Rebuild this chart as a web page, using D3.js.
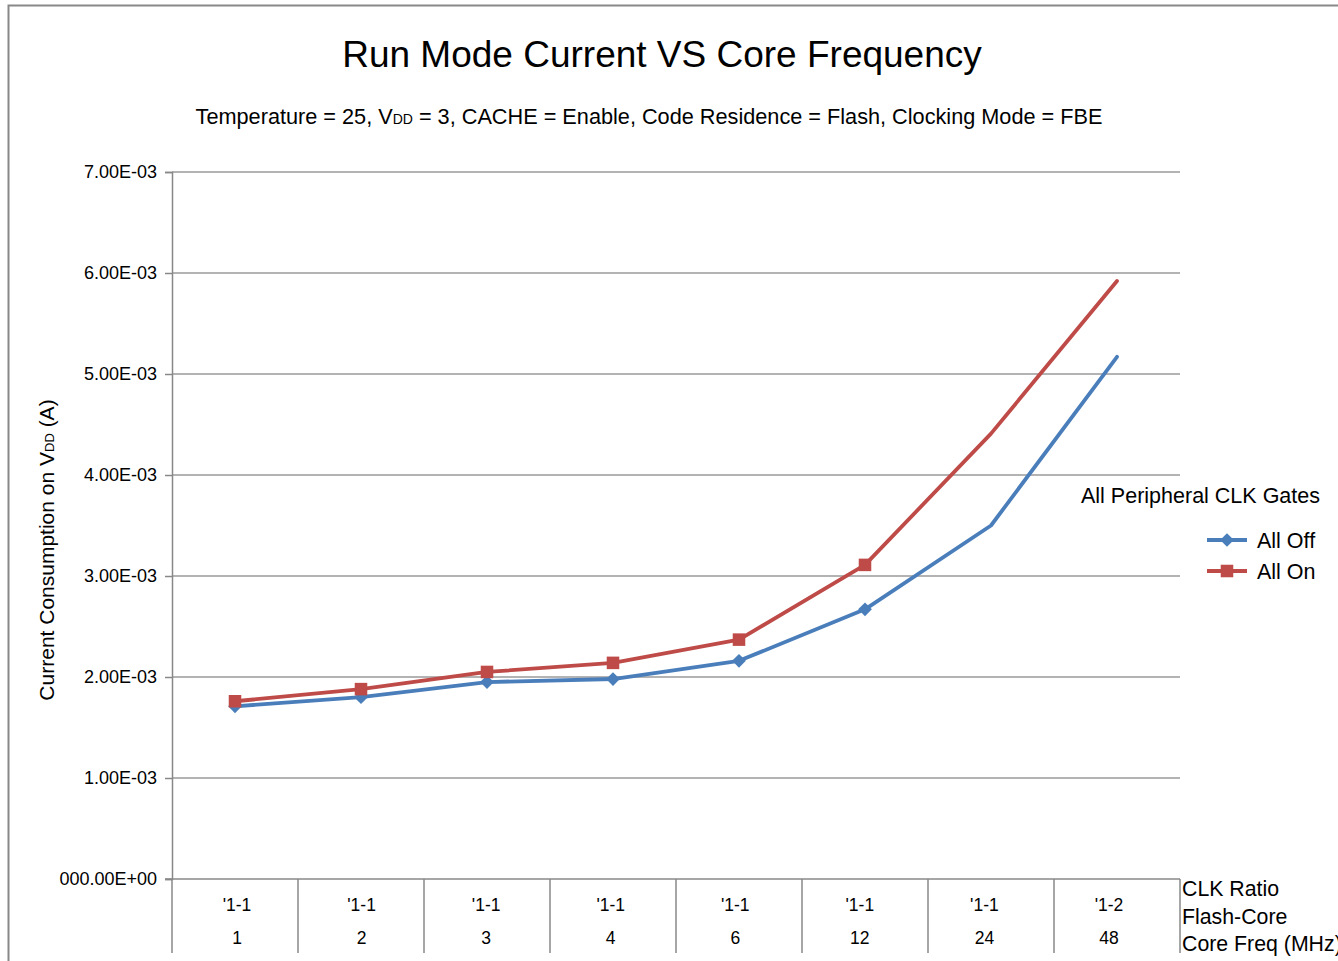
<!DOCTYPE html>
<html>
<head>
<meta charset="utf-8">
<script src="https://cdn.jsdelivr.net/npm/d3@7"></script>
<style>
  body { margin: 0; background: #fff; }
  text { font-family: "Liberation Sans", Arial, sans-serif; fill: #000; }
</style>
</head>
<body>
<div id="chart"></div>
<script>
// data
let clkRatio = ["'1-1", "'1-1", "'1-1", "'1-1", "'1-1", "'1-1", "'1-1", "'1-2"];
let coreFreq = ["1", "2", "3", "4", "6", "12", "24", "48"];
let allOff = [1.71e-3, 1.80e-3, 1.95e-3, 1.98e-3, 2.16e-3, 2.67e-3, 3.50e-3, 5.17e-3];
let allOn  = [1.76e-3, 1.88e-3, 2.05e-3, 2.14e-3, 2.37e-3, 3.11e-3, 4.41e-3, 5.92e-3];
let yTicks = [0, 1e-3, 2e-3, 3e-3, 4e-3, 5e-3, 6e-3, 7e-3];
let yTickLabels = ["000.00E+00", "1.00E-03", "2.00E-03", "3.00E-03", "4.00E-03", "5.00E-03", "6.00E-03", "7.00E-03"];
let rowTitles = ["CLK Ratio", "Flash-Core", "Core Freq (MHz)"];
// last two points were drawn without markers in the original
let markerCount = 6;

let width = 1338, height = 961;
let margin = {left: 172, right: 158, top: 172, bottom: 82};

let svg = d3.select("#chart").append("svg")
    .attr("width", width)
    .attr("height", height);

// outer chart border
svg.append("rect")
    .attr("x", 8.5).attr("y", 5.5)
    .attr("width", width).attr("height", height)
    .attr("fill", "none").attr("stroke", "#888").attr("stroke-width", 2);

let x = d3.scaleBand().domain(d3.range(coreFreq.length))
    .range([margin.left, width - margin.right]);
let y = d3.scaleLinear().domain([0, 7e-3])
    .range([height - margin.bottom, margin.top]);

// grid lines
svg.append("g").selectAll("line").data(yTicks.slice(1)).join("line")
    .attr("x1", margin.left).attr("x2", width - margin.right)
    .attr("y1", d => y(d)).attr("y2", d => y(d))
    .attr("stroke", "#9a9a9a").attr("stroke-width", 1.5);

// y axis
let yAxis = d3.axisLeft(y).tickValues(yTicks)
    .tickFormat((d, i) => yTickLabels[i]).tickSize(7).tickPadding(8);
let gy = svg.append("g").attr("transform", "translate(" + margin.left + ",0)").call(yAxis);
gy.select(".domain").attr("stroke", "#888").attr("stroke-width", 1.5);
gy.selectAll(".tick line").attr("stroke", "#888").attr("stroke-width", 1.5);
gy.selectAll("text").attr("font-size", 18).attr("font-family", "Liberation Sans, Arial, sans-serif").attr("fill", "#000");

// x axis base line
let y0 = y(0);
svg.append("line")
    .attr("x1", margin.left - 7).attr("x2", width - margin.right)
    .attr("y1", y0).attr("y2", y0)
    .attr("stroke", "#888").attr("stroke-width", 1.5);

// category separators (multi-level axis)
let bounds = d3.range(coreFreq.length + 1).map(i => margin.left + i * x.step());
svg.append("g").selectAll("line").data(bounds).join("line")
    .attr("x1", d => d).attr("x2", d => d)
    .attr("y1", y0).attr("y2", y0 + 74)
    .attr("stroke", "#888").attr("stroke-width", 1.5);

let labelX = d3.scalePoint().domain(d3.range(coreFreq.length))
    .range([x(0) + x.bandwidth() / 2 + 2, x(coreFreq.length - 1) + x.bandwidth() / 2 - 8]);

svg.append("g").selectAll("text").data(clkRatio).join("text")
    .attr("x", (d, i) => labelX(i)).attr("y", y0 + 32)
    .attr("text-anchor", "middle").attr("font-size", 17.5)
    .text(d => d);
svg.append("g").selectAll("text").data(coreFreq).join("text")
    .attr("x", (d, i) => labelX(i)).attr("y", y0 + 65)
    .attr("text-anchor", "middle").attr("font-size", 17.5)
    .text(d => d);

svg.append("g").selectAll("text").data(rowTitles).join("text")
    .attr("x", width - margin.right + 2)
    .attr("y", (d, i) => y0 + 17 + i * 27.5)
    .attr("font-size", 21.3)
    .text(d => d);

// series
let series = [
    {name: "All Off", values: allOff, color: "#4a7ebb", shape: d3.symbolDiamond2, size: 120},
    {name: "All On", values: allOn, color: "#be4b48", shape: d3.symbolSquare2, size: 200}
];

let line = d3.line()
    .x((d, i) => x(i) + x.bandwidth() / 2)
    .y(d => y(d))
    .curve(d3.curveLinear);

series.forEach(function(s){
    svg.append("path")
        .attr("d", line(s.values))
        .attr("fill", "none")
        .attr("stroke", s.color).attr("stroke-width", 3.8)
        .attr("stroke-linejoin", "round").attr("stroke-linecap", "round");
});
series.forEach(function(s){
    svg.append("g").selectAll("path").data(s.values.slice(0, markerCount)).join("path")
        .attr("transform", (d, i) => "translate(" + (x(i) + x.bandwidth() / 2) + "," + y(d) + ")")
        .attr("d", d3.symbol().type(s.shape).size(s.size))
        .attr("fill", s.color);
});

// legend
svg.append("text")
    .attr("x", 1081).attr("y", 503)
    .attr("font-size", 21.5)
    .text("All Peripheral CLK Gates");

let legend = svg.append("g").selectAll("g").data(series).join("g")
    .attr("transform", (d, i) => "translate(1207," + (540 + i * 31) + ")");
legend.append("line")
    .attr("x1", 0).attr("x2", 40)
    .attr("stroke", d => d.color).attr("stroke-width", 3.8);
legend.append("path")
    .attr("transform", "translate(20,0)")
    .attr("d", d => d3.symbol().type(d.shape).size(d.size)())
    .attr("fill", d => d.color);
legend.append("text")
    .attr("x", 50).attr("y", 8)
    .attr("font-size", 21.5)
    .text(d => d.name);

// titles
svg.append("text")
    .attr("x", 662).attr("y", 67)
    .attr("text-anchor", "middle").attr("font-size", 37)
    .text("Run Mode Current VS Core Frequency");

let sub = svg.append("text")
    .attr("x", 649).attr("y", 124)
    .attr("text-anchor", "middle").attr("font-size", 21.7);
sub.append("tspan").text("Temperature = 25, V");
sub.append("tspan").attr("font-size", 14).text("DD");
sub.append("tspan").text(" = 3, CACHE = Enable, Code Residence = Flash, Clocking Mode = FBE");

let ylab = svg.append("text")
    .attr("transform", "translate(54,550) rotate(-90)")
    .attr("text-anchor", "middle").attr("font-size", 21);
ylab.append("tspan").text("Current Consumption on V");
ylab.append("tspan").attr("font-size", 13).text("DD");
ylab.append("tspan").text(" (A)");
</script>
</body>
</html>
